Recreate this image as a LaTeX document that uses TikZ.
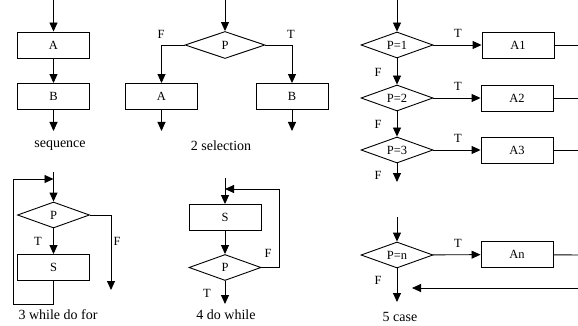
\documentclass[tikz,border=0pt]{standalone}
\usepackage{fontspec}
\setmainfont{Liberation Serif}
\usetikzlibrary{shapes.geometric,arrows.meta}

\tikzstyle{block}=[rectangle, draw, minimum width=72pt, minimum height=26pt, inner sep=0pt]
\tikzstyle{test}=[diamond, draw, aspect=2.8, minimum width=72pt, minimum height=26pt, inner sep=0pt]
\tikzstyle{flow}=[-{Triangle[length=9pt,width=8pt]}]
\tikzstyle{caption}=[font=\fontsize{14}{16}\selectfont]

\begin{document}
\begin{tikzpicture}[x=1pt,y=-1pt,line width=0.9pt,font=\fontsize{12.5}{14}\selectfont]
\useasboundingbox (0,0) rectangle (578,326);

% sequence
\coordinate (s0) at (53.5,0);
\node[block] (sa) at (53.5,45) {A};
\node[block] (sb) at (53.5,96.5) {B};
\coordinate (s1) at (53.5,131);
\draw[flow] (s0) -- (sa);
\draw[flow] (sa) -- (sb);
\draw[flow] (sb) -- (s1);
\node[caption] (t1) at (60,146) {sequence};

% selection
\coordinate (c0) at (225,0);
\node[test, minimum width=80pt, minimum height=27pt] (cp) at (225,45) {P};
\node[block] (ca) at (161.5,96.5) {A};
\node[block] (cb) at (292,96.5) {B};
\coordinate (ca1) at (161.5,131);
\coordinate (cb1) at (292,131);
\draw[flow] (c0) -- (cp);
\draw[flow] (cp.west) -| (ca);
\draw[flow] (cp.east) -| (cb);
\draw[flow] (ca) -- (ca1);
\draw[flow] (cb) -- (cb1);
\node at (161,34) {F};
\node at (291,34) {T};
\node[caption] (t2) at (221,146) {2 selection};

% case
\coordinate (k0) at (397,0);
\node[test] (k1) at (397,45) {P=1};
\node[test] (k2) at (397,98) {P=2};
\node[test] (k3) at (397,150) {P=3};
\node[block] (a1) at (518,45) {A1};
\node[block] (a2) at (517,98) {A2};
\node[block] (a3) at (517,150) {A3};
\coordinate (e1) at (578,45);
\coordinate (e2) at (578,98);
\coordinate (e3) at (578,150);
\coordinate (k4) at (397,182);
\draw[flow] (k0) -- (k1);
\draw[flow] (k1) -- (k2);
\draw[flow] (k2) -- (k3);
\draw[flow] (k3) -- (k4);
\draw[flow] (k1) -- (a1);
\draw[flow] (k2) -- (a2);
\draw[flow] (k3) -- (a3);
\draw (a1) -- (e1);
\draw (a2) -- (e2);
\draw (a3) -- (e3);
\node at (458,33) {T};
\node at (458,86) {T};
\node at (458,138) {T};
\node at (378,72) {F};
\node at (378,124) {F};
\node at (378,175) {F};

\coordinate (kn0) at (397,217);
\node[test] (kn) at (397,255) {P=n};
\node[block] (an) at (517,254.5) {An};
\coordinate (en) at (578,255);
\coordinate (r0) at (578,288);
\coordinate (r1) at (412,288);
\coordinate (kn1) at (397,302);
\draw[flow] (kn0) -- (kn);
\draw[flow] (kn) -- (an);
\draw (an) -- (en);
\draw[flow] (r0) -- (r1);
\draw[flow] (kn) -- (kn1);
\node at (458,243) {T};
\node at (378,280) {F};
\node[caption] (t5) at (400,317) {5 case};

% while
\coordinate (w0) at (53.5,172);
\coordinate (wl) at (53.5,179);
\node[test] (wd) at (53.5,215) {P};
\node[block] (ws) at (53.5,267.5) {S};
\coordinate (wx) at (111,290);
\draw[flow] (w0) -- (wd);
\draw[flow] (wd) -- (ws);
\draw[flow] (ws.south) |- (13,304) |- (wl);
\draw[flow] (wd.east) -| (wx);
\node at (38,241) {T};
\node at (117,241) {F};
\node[caption] (t3) at (58,315) {3 while do for};

% do while
\coordinate (d0) at (225,178);
\coordinate (dl) at (225,189);
\node[block] (ds) at (225,217.5) {S};
\node[test] (dd) at (225,267.5) {P};
\coordinate (d1) at (225,304);
\draw[flow] (d0) -- (ds);
\draw[flow] (ds) -- (dd);
\draw[flow] (dd.east) -- ++(18,0) |- (dl);
\draw[flow] (dd) -- (d1);
\node at (207,293) {T};
\node at (268,253) {F};
\node[caption] (t4) at (226,315) {4 do while};
\end{tikzpicture}
\end{document}
